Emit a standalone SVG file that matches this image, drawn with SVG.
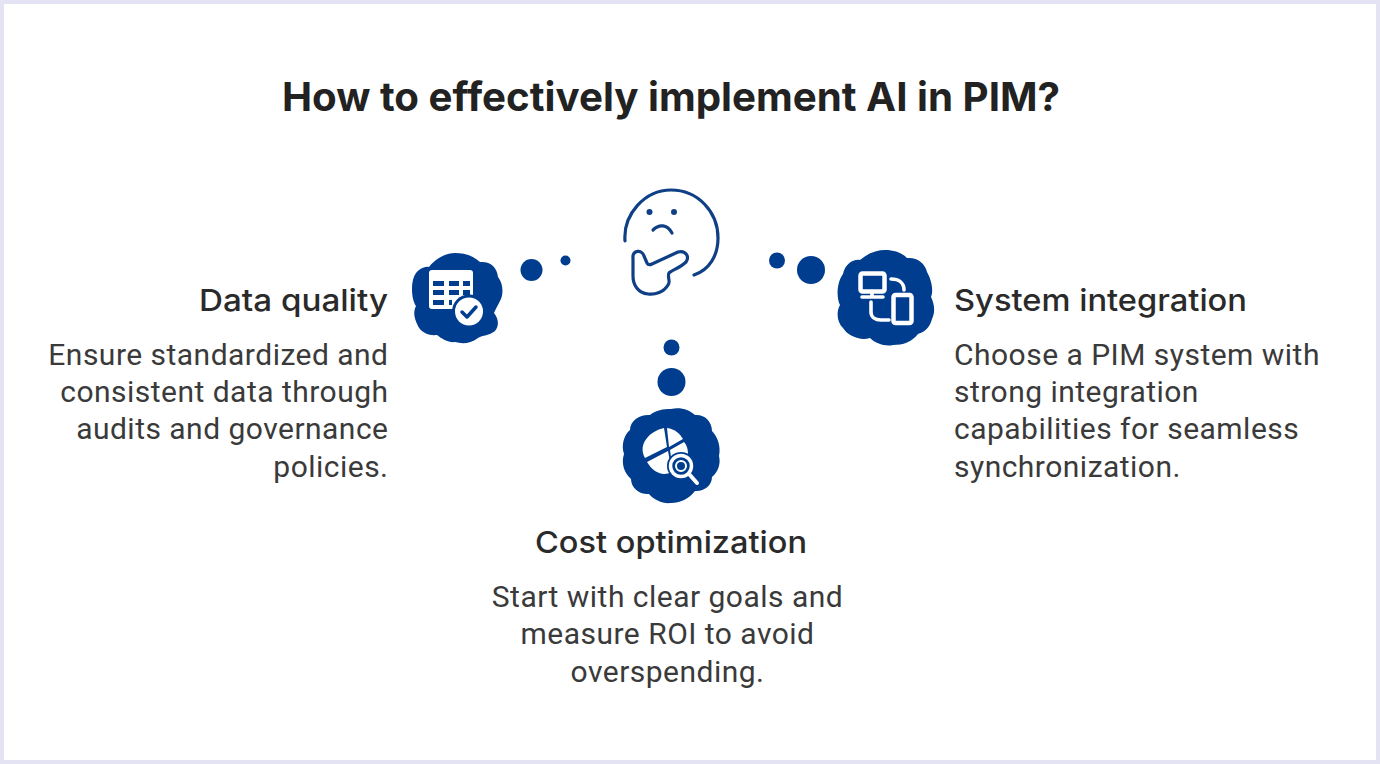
<svg xmlns="http://www.w3.org/2000/svg" width="1380" height="764" viewBox="0 0 1380 764">
<style>
.t{font-family:"Inter","Liberation Sans",sans-serif;fill:#222222}
.title{font-size:40px;font-weight:700}
.h{font-size:30.500px;font-weight:500;fill:#2a2a2a}
.b{font-family:"Roboto","Liberation Sans",sans-serif;font-size:30px;letter-spacing:0.480px;fill:#3a3a3a}
.blob{fill:#003d8f}
.dot{fill:#003d8f}
.w{fill:#fff}
.ws{fill:none;stroke:#fff;stroke-width:3.600;stroke-linecap:round;stroke-linejoin:round}
.face{fill:none;stroke:#0f3f85;stroke-width:3.200;stroke-linecap:round;stroke-linejoin:round}
</style>
<rect x="2" y="2" width="1376" height="760" fill="#fff" stroke="#e3e3f3" stroke-width="4"/>
<text id="title" class="t title" x="671" y="111" text-anchor="middle" textLength="778" lengthAdjust="spacingAndGlyphs">How to effectively implement AI in PIM?</text>

<g id="connectors">
<circle class="dot" cx="531.500" cy="270" r="11"/>
<circle class="dot" cx="565.500" cy="260.500" r="5"/>
<circle class="dot" cx="777" cy="260.500" r="8"/>
<circle class="dot" cx="811" cy="270" r="14"/>
<circle class="dot" cx="671.500" cy="347.500" r="8"/>
<circle class="dot" cx="671.500" cy="382" r="14"/>
</g>

<g id="node-center">
<path class="face" d="M625 241C623 214 645 190 671 190C698 190 718 212 718 238C718 256 709 270 694 275"/>
<circle cx="649.500" cy="212" r="3" fill="#0f3f85"/>
<circle cx="674" cy="212" r="3" fill="#0f3f85"/>
<path class="face" d="M653 230C659 224 667 224 672 233"/>
<path class="face" d="M633 258C632 250 642 249 644 256L647 263C648 265 650 265 652 264L678 252C685 250 690 256 686 262C680 268 672 270 669 273C667 277 671 282 668 285C664 292 655 295 648 294C638 293 633 285 633 276Z"/>
</g>

<g id="node-data-quality">
<path class="blob" d="M455 253C466 253 473 256 480 262C490 261 497 267 498 277C503 283 504 294 500 301C498 305 495 310 494 313C499 319 499 326 495 331C489 336 483 335 478 338C470 344 462 344 455 342C449 343 442 339 437 335C428 336 421 332 418 326C414 318 413 312 416 306C412 300 411 288 413 280C415 271 423 266 429 267C436 258 446 253 455 253Z"/>
<rect class="w" x="429" y="270" width="44" height="39" rx="3"/>
<g fill="#003d8f">
<rect x="433" y="281" width="11" height="5"/><rect x="449" y="281" width="10" height="5"/><rect x="463" y="281" width="7" height="5"/>
<rect x="433" y="290" width="11" height="5"/><rect x="449" y="290" width="10" height="5"/><rect x="463" y="290" width="7" height="5"/>
<rect x="433" y="300" width="11" height="5"/><rect x="449" y="300" width="3" height="5"/>
</g>
<circle cx="469" cy="311.500" r="17" fill="#003d8f"/>
<circle class="w" cx="469" cy="311.500" r="14"/>
<path d="M462 312L467 317L476 307" fill="none" stroke="#003d8f" stroke-width="3.500" stroke-linecap="round" stroke-linejoin="round"/>
</g>

<g id="node-system-integration">
<path class="blob" d="M885 250C895 250 902 253 907 258C917 257 925 263 927 272C931 279 934 290 931 297C935 305 935 313 932 319C930 327 925 332 918 334C912 342 903 345 893 345C885 347 875 343 870 338C860 341 848 336 843 328C837 322 836 312 840 305C836 297 837 282 843 274C845 264 853 259 860 260C868 253 877 250 885 250Z"/>
<rect x="860.500" y="273.500" width="24" height="18" rx="2" fill="#003d8f" stroke="#fff" stroke-width="4.500"/>
<path class="ws" d="M872 292V296M862 297H883"/>
<path class="ws" d="M891 279C899 279 904 283 904 290"/>
<path class="ws" d="M871 302V312C871 317 875 320 881 320H889"/>
<rect x="893.500" y="295" width="18" height="28" rx="2" fill="#003d8f" stroke="#fff" stroke-width="4.500"/>
</g>

<g id="node-cost-optimization">
<path class="blob" d="M671 409C681 407 689 410 695 415C704 414 712 421 712 431C718 437 721 447 719 456C721 464 718 472 712 477C712 486 703 492 695 491C689 499 680 503 671 503C663 504 654 500 649 494C640 495 631 488 631 479C624 473 621 463 624 454C621 445 624 435 630 430C630 420 641 414 650 415C656 410 663 409 671 409Z"/>
<path class="w" d="M664 428L667 447L645 458C637 444 650 431 664 428Z"/>
<path class="w" d="M667 428C675 429 680 434 683 439L669 447Z"/>
<path class="w" d="M647 462L668 451L672 472C662 477 653 472 647 462Z"/>
<path class="w" d="M670 450L684 442C688 447 688 451 688 456C680 454 674 459 672 464Z"/>
<circle cx="681" cy="466" r="14" fill="#003d8f"/>
<circle cx="681" cy="466" r="10.500" fill="none" stroke="#fff" stroke-width="3.500"/>
<circle cx="681" cy="466" r="5" fill="none" stroke="#fff" stroke-width="2"/>
<path d="M689 474L697 483" stroke="#fff" stroke-width="4" stroke-linecap="round"/>
</g>

<g id="text-data-quality" text-anchor="end">
<text class="t h" x="388" y="311" textLength="189" lengthAdjust="spacingAndGlyphs">Data quality</text>
<text class="b" x="388.500" y="364.500">Ensure standardized and</text>
<text class="b" x="388.500" y="401.500">consistent data through</text>
<text class="b" x="388.500" y="438.500">audits and governance</text>
<text class="b" x="388.500" y="476.500">policies.</text>
</g>
<g id="text-system-integration">
<text class="t h" x="954" y="311" textLength="293" lengthAdjust="spacingAndGlyphs">System integration</text>
<text class="b" x="954" y="364.500">Choose a PIM system with</text>
<text class="b" x="954" y="401.500">strong integration</text>
<text class="b" x="954" y="438.500">capabilities for seamless</text>
<text class="b" x="954" y="476.500">synchronization.</text>
</g>
<g id="text-cost-optimization" text-anchor="middle">
<text class="t h" x="671" y="553" textLength="272" lengthAdjust="spacingAndGlyphs">Cost optimization</text>
<text class="b" x="667.500" y="606.500">Start with clear goals and</text>
<text class="b" x="667.500" y="643.500">measure ROI to avoid</text>
<text class="b" x="667.500" y="681.500">overspending.</text>
</g>
</svg>
